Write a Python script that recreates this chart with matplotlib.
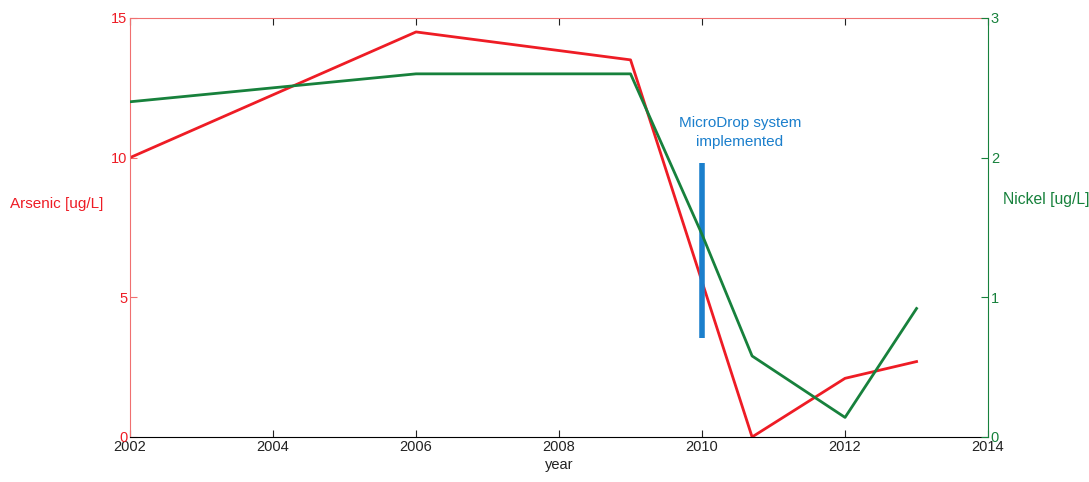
import numpy as np
import matplotlib.pyplot as plt

plt.rcParams['font.family'] = ['Liberation Sans', 'DejaVu Sans']

# data
years_as = [2002, 2006, 2009, 2010.7, 2012, 2013]
arsenic = [10.0, 14.5, 13.5, 0.0, 2.1, 2.7]
years_ni = [2002, 2006, 2009, 2010, 2010.7, 2012, 2013]
nickel = [2.4, 2.6, 2.6, 1.45, 0.58, 0.14, 0.92]
event_year = 2010
event_span = [3.55, 9.8]

red = '#ee1c25'
red_ax = '#f07070'
green = '#17813c'
blue = '#1b7fcc'

fig = plt.figure(figsize=(10.89, 4.82), dpi=100)
ax = fig.add_axes([0.1194, 0.0934, 0.7879, 0.8693])
ax2 = ax.twinx()

ax.plot(years_as, arsenic, color=red, lw=2)
ax.plot([event_year, event_year], event_span, color=blue, lw=4, solid_capstyle='butt')
ax.text(2010.53, 10.3, 'MicroDrop system\nimplemented', color=blue, ha='center',
        va='bottom', fontsize=11, linespacing=1.45)
ax2.plot(years_ni, nickel, color=green, lw=2)

ax.set_xlim(2002, 2014)
ax.set_ylim(0, 15)
ax2.set_ylim(0, 3)
ax.set_xticks(np.arange(2002, 2015, 2))
ax.set_yticks([0, 5, 10, 15])
ax2.set_yticks([0, 1, 2, 3])

ax.tick_params(axis='x', direction='in', top=True, colors='#222222', labelsize=10.5, length=5, pad=2)
for t in ax.xaxis.get_major_ticks():
    t.tick2line.set_color(red_ax)
ax.tick_params(axis='y', direction='in', colors=red_ax, labelcolor=red, labelsize=10.5, length=5, pad=2)
ax2.tick_params(axis='y', direction='in', colors=green, labelsize=10.5, length=5, pad=2)

ax.spines['left'].set_color(red_ax)
ax.spines['top'].set_color(red_ax)
ax.spines['bottom'].set_color('black')
ax.spines['right'].set_visible(False)
ax2.spines['right'].set_color(green)
for s in ['left', 'top', 'bottom']:
    ax2.spines[s].set_visible(False)

ax.set_xlabel('year', fontsize=10.5, color='#222222', labelpad=3)
ax.set_ylabel('Arsenic [ug/L]', color=red, fontsize=11, rotation=0, ha='left', va='center')
ax.yaxis.set_label_coords(-0.140, 0.555)
ax2.set_ylabel('Nickel [ug/L]', color=green, fontsize=11.3, rotation=0, ha='left', va='center')
ax2.yaxis.set_label_coords(1.0175, 0.566)

fig.savefig('out.png', dpi=100)
